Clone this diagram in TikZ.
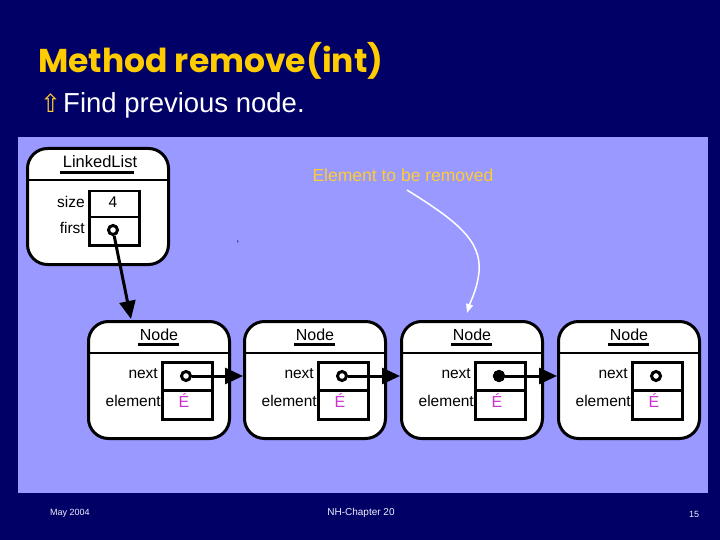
\documentclass[tikz,border=0pt]{standalone}
\usepackage{fontspec}
\setmainfont{Liberation Sans}
\newfontfamily\titlefont{Poppins}
\newfontfamily\symfont{DejaVu Sans}
\usepackage{tikz}
\usetikzlibrary{arrows.meta}

\definecolor{slidebg}{HTML}{000066}
\definecolor{panel}{HTML}{9999FF}
\definecolor{titlecol}{HTML}{FFCC00}
\definecolor{notecol}{HTML}{FFCC33}
\definecolor{elemcol}{HTML}{CC33CC}

\tikzset{
  objbox/.style={draw=black, line width=3pt, fill=white, rounded corners=20pt,
    anchor=north west, inner sep=0pt, minimum width=141pt, minimum height=117pt},
  fieldbox/.style={draw=black, line width=2.5pt, inner sep=0pt},
  fieldlbl/.style={anchor=east, inner sep=1pt, font=\fontsize{15.5}{17}\selectfont},
  ptrdot/.style={circle, draw=black, line width=3pt, fill=white, inner sep=0pt, minimum size=9pt},
  ptr/.style={line width=3pt, -{Triangle[length=18pt,width=16pt]}},
}

\begin{document}
\begin{tikzpicture}[x=1pt, y=-1pt]

        % Slide background and panel
        \fill[slidebg] (0,0) rectangle (720,540);
        \useasboundingbox (0,0) rectangle (720,540);
        \fill[panel] (18,137) rectangle (708,493);

        % Title and bullet
        \node[anchor=base west, inner sep=0pt, text=titlecol, font=\titlefont\bfseries\fontsize{33}{36}\selectfont] (title) at (38,73) {Method remove(int)};
        \node[anchor=base west, inner sep=0pt, text=notecol, font=\symfont\fontsize{25}{28}\selectfont] (bullet) at (40,113) {⇧};
        \node[anchor=base west, inner sep=0pt, text=white, font=\fontsize{27.5}{30}\selectfont] (sub) at (63,113) {Find previous node.};

        % LinkedList object
        \node[objbox, minimum height=116pt] (ll) at (26,147) {};
        \draw[line width=2.5pt] (ll.west |- 0,180) -- (ll.east |- 0,180);
        \node[font=\fontsize{16.5}{18}\selectfont] (lltitle) at (100,162) {LinkedList};
        \draw[line width=3pt] (60,173) -- (134,173);
        \node[fieldbox, anchor=north west, minimum width=50pt, minimum height=26pt] (llsize) at (88,190) {};
        \node[fieldbox, anchor=north west, minimum width=50pt, minimum height=28pt] (llfirst) at (88,216) {};
        \node[fieldlbl] at (86,202) {size};
        \node[fieldlbl] at (86,228) {first};
        \node[font=\fontsize{15.5}{17}\selectfont] at (113,202) {4};
        \node[ptrdot] (lldot) at (113,230) {};

        % stray mark
        \node[text=slidebg, font=\fontsize{10}{12}\selectfont] (mark) at (238,244) {`};

        % Node objects
        \foreach \i/\x in {1/87,2/243,3/400,4/557}{
          \node[objbox] (n\i) at (\x,320) {};
          \draw[line width=2.5pt] (n\i.west |- 0,353) -- (n\i.east |- 0,353);
          \node[font=\fontsize{16}{18}\selectfont] at ({\x+72},335) {Node};
          \draw[line width=3pt] ({\x+51},344) -- ({\x+92},344);
          \node[fieldbox, anchor=north west, minimum width=50pt, minimum height=28pt] (nx\i) at ({\x+74},361) {};
          \node[fieldbox, anchor=north west, minimum width=50pt, minimum height=29pt] (el\i) at ({\x+74},389) {};
          \node[fieldlbl] at ({\x+72},374) {next};
          \node[fieldlbl] at ({\x+75},401) {element};
          \node[text=elemcol, font=\fontsize{16}{18}\selectfont] at ({\x+97},401) {É};
          \node[ptrdot] (p\i) at ({\x+99},376) {};
        }
        \node[ptrdot, fill=black] at (p3) {};

        % Links
        \coordinate (n1in) at (131,319);
        \draw[ptr] (lldot) -- (n1in);
        \foreach \i/\j in {1/2,2/3,3/4}
          \draw[ptr] (p\i) -- (n\j.west |- p\i);

        % Element to be removed
        \node[text=notecol, font=\fontsize{17.5}{20}\selectfont] (rm) at (403,175) {Element to be removed};
        \coordinate (n3in) at (467,313);
        \draw[white, line width=1.5pt, -{Triangle[length=9pt,width=7pt]}]
          (407,190) .. controls (455,220) and (482,240) .. (479,272)
          .. controls (477,290) and (471,300) .. (n3in);

        % Footer
        \node[text=white!85!panel, font=\fontsize{9}{11}\selectfont] (date) at (70,513) {May 2004};
        \node[text=white!85!panel, font=\fontsize{10}{12}\selectfont] (chap) at (361,513) {NH-Chapter 20};
        \node[text=white!85!panel, font=\fontsize{9}{11}\selectfont] (page) at (694,514) {15};

        \end{tikzpicture}
\end{document}
